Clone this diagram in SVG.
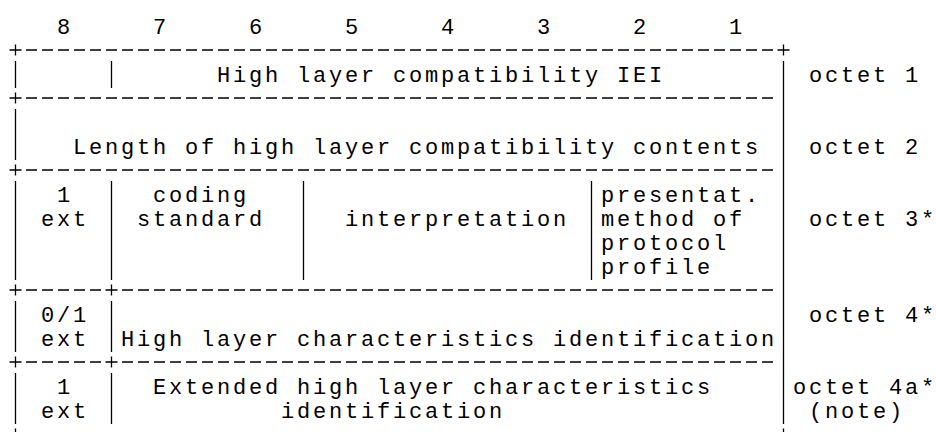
<svg xmlns="http://www.w3.org/2000/svg" width="936" height="432" viewBox="0 0 936 432">
<style>
.t{font-family:"Liberation Mono","Courier New",monospace;font-size:22px;letter-spacing:2.8px;fill:#000;white-space:pre}
.f{stroke:#000;stroke-width:1.3;fill:none}
.d{stroke-dasharray:11 5}
</style>
<rect width="936" height="432" fill="#fff"/>
<g id="bit-numbers">
<text class="t" x="56.9" y="34">8</text>
<text class="t" x="152.9" y="34">7</text>
<text class="t" x="248.9" y="34">6</text>
<text class="t" x="344.9" y="34">5</text>
<text class="t" x="440.9" y="34">4</text>
<text class="t" x="536.9" y="34">3</text>
<text class="t" x="632.9" y="34">2</text>
<text class="t" x="728.9" y="34">1</text>
</g>
<g id="frame">
<g class="f d">
<line x1="26" y1="50" x2="773" y2="50"/>
<line x1="26" y1="98" x2="773" y2="98"/>
<line x1="26" y1="170" x2="773" y2="170"/>
<line x1="26" y1="290" x2="101" y2="290"/>
<line x1="122" y1="290" x2="773" y2="290"/>
<line x1="26" y1="362" x2="101" y2="362"/>
<line x1="122" y1="362" x2="773" y2="362"/>
</g>
<path class="f" d="M9.5 50H21.5M15.5 44.5V55.5M777.5 50H789.5M783.5 44.5V55.5M9.5 98H21.5M15.5 92.5V103.5M9.5 170H21.5M15.5 164.5V175.5M9.5 290H21.5M15.5 284.5V295.5M105.5 290H117.5M111.5 284.5V295.5M9.5 362H21.5M15.5 356.5V367.5M105.5 362H117.5M111.5 356.5V367.5M15.5 428.5V439.5M783.5 428.5V439.5"/>
<path class="f" d="M15.5 61V88M15.5 109V160M15.5 181V280M15.5 301V352M15.5 373V424M111.5 61V88M111.5 181V280M111.5 301V352M111.5 373V424M303.5 181V280M591.5 181V280M783.5 61V424"/>
</g>
<g id="octet1">
<text class="t" x="216.9" y="82">High layer compatibility IEI</text>
<text class="t" x="808.9" y="82">octet 1</text>
</g>
<g id="octet2">
<text class="t" x="72.9" y="154">Length of high layer compatibility contents</text>
<text class="t" x="808.9" y="154">octet 2</text>
</g>
<g id="octet3-ext">
<text class="t" x="56.9" y="202">1</text>
<text class="t" x="40.9" y="226">ext</text>
</g>
<g id="octet3-coding">
<text class="t" x="152.9" y="202">coding</text>
<text class="t" x="136.9" y="226">standard</text>
</g>
<g id="octet3-interpretation">
<text class="t" x="344.9" y="226">interpretation</text>
</g>
<g id="octet3-presentation">
<text class="t" x="600.9" y="202">presentat.</text>
<text class="t" x="600.9" y="226">method of</text>
<text class="t" x="600.9" y="250">protocol</text>
<text class="t" x="600.9" y="274">profile</text>
</g>
<g id="octet3-label">
<text class="t" x="808.9" y="226">octet 3*</text>
</g>
<g id="octet4-ext">
<text class="t" x="40.9" y="322">0/1</text>
<text class="t" x="40.9" y="346">ext</text>
</g>
<g id="octet4-hlci">
<text class="t" x="120.9" y="346">High layer characteristics identification</text>
<text class="t" x="808.9" y="322">octet 4*</text>
</g>
<g id="octet4a-ext">
<text class="t" x="56.9" y="394">1</text>
<text class="t" x="40.9" y="418">ext</text>
</g>
<g id="octet4a-ehlci">
<text class="t" x="152.9" y="394">Extended high layer characteristics</text>
<text class="t" x="280.9" y="418">identification</text>
<text class="t" x="792.9" y="394">octet 4a*</text>
<text class="t" x="808.9" y="418">(note)</text>
</g>
</svg>
